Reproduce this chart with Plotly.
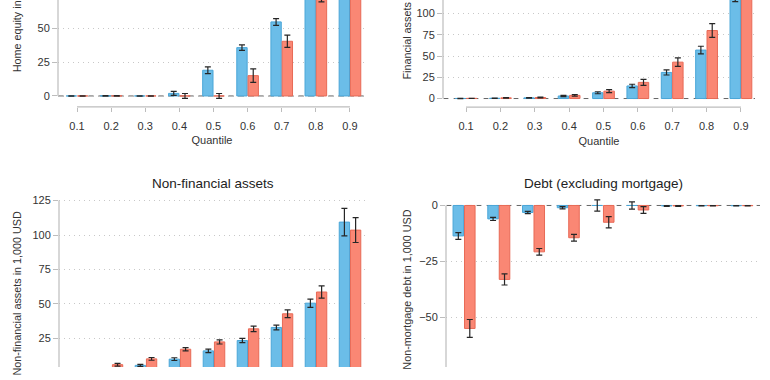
import plotly.graph_objects as go

W, H = 770, 380

quantiles = [0.1, 0.2, 0.3, 0.4, 0.5, 0.6, 0.7, 0.8, 0.9]
tick_labels = ["0.1", "0.2", "0.3", "0.4", "0.5", "0.6", "0.7", "0.8", "0.9"]

# Home equity (1,000 USD)
home_blue = [0.0, 0.1, 0.0, 1.9, 19.0, 35.7, 54.7, 92.0, 180.0]
home_blue_err = [0.1, 0.2, 0.1, 1.5, 2.5, 2.0, 2.5, 6.0, 12.0]
home_red = [0.0, 0.1, 0.0, 0.0, 0.0, 15.0, 40.4, 74.0, 150.0]
home_red_err = [0.1, 0.2, 0.1, 1.8, 1.8, 5.0, 4.5, 4.5, 12.0]

# Financial assets (1,000 USD)
fin_blue = [0.1, 0.3, 0.8, 3.0, 6.8, 14.8, 30.7, 57.0, 120.0]
fin_blue_err = [0.1, 0.2, 0.3, 0.8, 1.2, 2.0, 3.0, 4.5, 6.0]
fin_red = [0.2, 0.8, 1.2, 3.7, 8.7, 19.0, 42.8, 80.0, 150.0]
fin_red_err = [0.1, 0.3, 0.4, 1.0, 1.8, 3.5, 5.0, 8.0, 14.0]

# Non-financial assets (1,000 USD)
nonfin_blue = [1.0, 2.5, 5.5, 10.0, 16.0, 23.5, 33.0, 50.6, 109.4]
nonfin_blue_err = [0.4, 0.5, 0.7, 1.0, 1.2, 1.5, 1.7, 3.0, 10.0]
nonfin_red = [2.5, 6.0, 10.2, 17.2, 22.5, 32.0, 42.9, 58.7, 103.6]
nonfin_red_err = [0.6, 1.0, 1.0, 1.2, 1.5, 2.0, 2.8, 4.5, 9.0]

# Debt excluding mortgage (1,000 USD)
debt_blue = [-13.6, -6.0, -3.1, -1.0, 0.0, 0.0, -0.2, -0.1, -0.1]
debt_blue_err = [1.5, 0.7, 0.5, 0.5, 2.5, 1.6, 0.2, 0.1, 0.1]
debt_red = [-54.9, -33.0, -20.7, -14.4, -7.5, -2.0, -0.2, -0.1, -0.1]
debt_red_err = [4.0, 2.5, 1.5, 1.5, 2.5, 1.5, 0.2, 0.1, 0.1]

BLUE_FILL, BLUE_LINE = "#6BBDE8", "#4AA6D8"
RED_FILL, RED_LINE = "#FA8774", "#E86A56"
ERR = "#262626"
AXIS_GREY = "#BDBDBD"
TXT = "#333333"
FONT = "Liberation Sans, Arial, sans-serif"

panels = [
    dict(b=home_blue, be=home_blue_err, r=home_red, re=home_red_err,
         xd=(58, 366), yd=(0, 110.7), yr=(-8.1, 70.9), xr=(0.0443, 0.947),
         tv=[0, 25, 50, 75, 100, 125, 150, 175, 200], yline=(0, 200),
         title=None, ytitle="Home equity in 1,000 USD", yt_x=17, yt_y=77, yt_anchor="bottom",
         show_x=True),
    dict(b=fin_blue, be=fin_blue_err, r=fin_red, re=fin_red_err,
         xd=(443, 755), yd=(0, 111), yr=(-10.2, 115.9), xr=(0.033, 0.941),
         tv=[0, 25, 50, 75, 100, 125, 150, 175], yline=(0, 175),
         title=None, ytitle="Financial assets in 1,000 USD", yt_x=407, yt_y=85, yt_anchor="bottom",
         show_x=True),
    dict(b=nonfin_blue, be=nonfin_blue_err, r=nonfin_red, re=nonfin_red_err,
         xd=(59, 366), yd=(200, 380), yr=(4.3, 130.4), xr=(0.0443, 0.947),
         tv=[0, 25, 50, 75, 100, 125], yline=(0, 125),
         title="Non-financial assets", ytitle="Non-financial assets in 1,000 USD",
         yt_x=17, yt_y=216.5, yt_anchor="top", show_x=False),
    dict(b=debt_blue, be=debt_blue_err, r=debt_red, re=debt_red_err,
         xd=(446, 760), yd=(200, 380), yr=(-72.1, 5.5), xr=(0.048, 0.952),
         tv=[-75, -50, -25, 0], yline=(-75, 0),
         title="Debt (excluding mortgage)", ytitle="Non-mortgage debt in 1,000 USD",
         yt_x=407, yt_y=215, yt_anchor="top", show_x=False),
]

fig = go.Figure()
shapes = []
annotations = []
layout_axes = {}

for i, p in enumerate(panels, start=1):
    xa = "x" if i == 1 else f"x{i}"
    ya = "y" if i == 1 else f"y{i}"
    for vals, errs, fill, line, name in [
        (p["b"], p["be"], BLUE_FILL, BLUE_LINE, "Group 1"),
        (p["r"], p["re"], RED_FILL, RED_LINE, "Group 2"),
    ]:
        fig.add_trace(go.Bar(
            x=quantiles, y=vals, name=name, xaxis=xa, yaxis=ya,
            marker=dict(color=fill, line=dict(color=line, width=1)),
            error_y=dict(type="data", array=errs, color=ERR, thickness=1.2, width=3),
            showlegend=False, offsetgroup=name,
        ))

    xdom = [p["xd"][0] / W, p["xd"][1] / W]
    ydom = [1 - p["yd"][1] / H, 1 - p["yd"][0] / H]
    xkey = "xaxis" if i == 1 else f"xaxis{i}"
    ykey = "yaxis" if i == 1 else f"yaxis{i}"
    layout_axes[xkey] = dict(
        domain=xdom, anchor=ya, range=list(p["xr"]),
        tickvals=quantiles, ticktext=tick_labels,
        showgrid=False, zeroline=False, showline=False,
        ticks="outside" if p["show_x"] else "", ticklen=4, tickcolor=AXIS_GREY, tickwidth=1,
        showticklabels=p["show_x"], ticklabelstandoff=5,
        tickfont=dict(size=11, color=TXT, family=FONT),
        title=dict(text="Quantile" if p["show_x"] else "", standoff=5,
                   font=dict(size=11, color=TXT, family=FONT)),
    )
    layout_axes[ykey] = dict(
        domain=ydom, anchor=xa, range=list(p["yr"]),
        tickvals=p["tv"], showgrid=True, gridcolor="#C8C8C8", griddash="1px,4px", gridwidth=1,
        zeroline=False, showline=False,
        ticks="outside", ticklen=5, tickcolor=AXIS_GREY, tickwidth=1,
        tickfont=dict(size=11, color=TXT, family=FONT),
    )
    shapes.append(dict(type="line", xref=f"{xa} domain", yref=ya, x0=0, x1=0,
                       y0=p["yline"][0], y1=p["yline"][1],
                       line=dict(color=AXIS_GREY, width=1.2), layer="above"))
    shapes.append(dict(type="line", xref=f"{xa} domain", yref=ya, x0=0, x1=1, y0=0, y1=0,
                       line=dict(color="#666666", width=1, dash="6px,4px"), layer="below"))
    if p["show_x"]:
        shapes.append(dict(type="line", xref=xa, yref=f"{ya} domain", x0=0.1, x1=0.9,
                           y0=0, y1=0, line=dict(color=AXIS_GREY, width=1.2), layer="above"))
    if p["title"]:
        annotations.append(dict(text=p["title"], xref="paper", yref="paper",
                                x=(xdom[0] + xdom[1]) / 2, y=1 - 190 / H,
                                xanchor="center", yanchor="middle", showarrow=False,
                                font=dict(size=13.5, color="#222222", family=FONT)))
    annotations.append(dict(text=p["ytitle"], xref="paper", yref="paper",
                            x=p["yt_x"] / W, y=1 - p["yt_y"] / H, textangle=-90,
                            xanchor="center", yanchor=p["yt_anchor"], showarrow=False,
                            font=dict(size=10.8, color=TXT, family=FONT)))

fig.update_layout(
    width=W, height=H, autosize=False, margin=dict(l=0, r=0, t=0, b=0),
    plot_bgcolor="white", paper_bgcolor="white",
    barmode="group", bargap=0.34, bargroupgap=0.08,
    showlegend=False, shapes=shapes, annotations=annotations,
    font=dict(family=FONT, color=TXT),
    **layout_axes,
)

fig.write_html(
    "out.html",
    config={"displayModeBar": False, "responsive": False},
    default_width="770px", default_height="380px",
    post_script="document.body.style.margin='0';document.body.style.overflow='hidden';",
)
